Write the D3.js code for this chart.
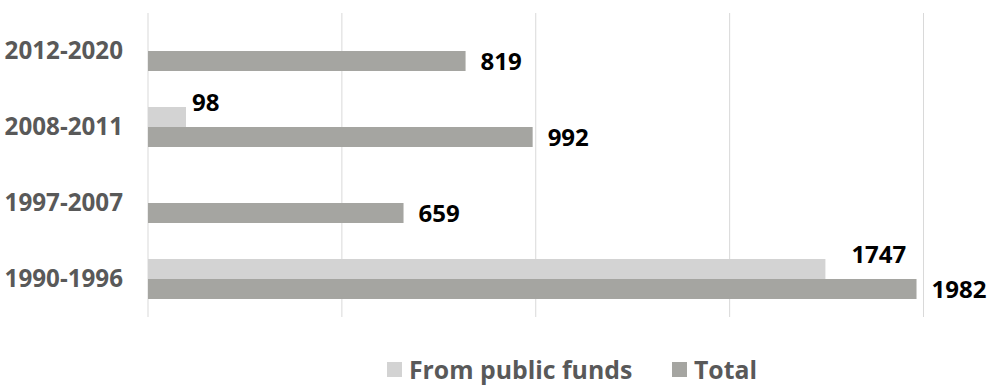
<!DOCTYPE html>
<html>
<head>
<meta charset="utf-8">
<script src="https://cdn.jsdelivr.net/npm/d3@7"></script>
<style>
  body { margin: 0; background: #fff; }
  svg text { font-family: "Open Sans", sans-serif; font-weight: 700; }
</style>
</head>
<body>
<div id="container"></div>
<script>
// data
var periods = ["2012-2020", "2008-2011", "1997-2007", "1990-1996"];
var publicFunds = [null, 98, null, 1747];
var totals = [819, 992, 659, 1982];
var seriesNames = ["From public funds", "Total"];
var xTicks = [0, 500, 1000, 1500, 2000];

var width = 994, height = 385;
var colors = { "From public funds": "#d3d3d3", "Total": "#a5a5a1" };

var svg = d3.select("#container").append("svg")
    .attr("width", width)
    .attr("height", height);

var x = d3.scaleLinear().domain([0, 2000]).range([148, 923.5]);

var y = d3.scaleBand()
    .domain(periods)
    .range([13, 317])
    .paddingInner(36 / 76)
    .paddingOuter(18 / 76);

var ySub = d3.scaleBand()
    .domain(seriesNames)
    .range([0, y.bandwidth()]);

// gridlines
svg.append("g")
  .selectAll("line")
  .data(xTicks)
  .enter().append("line")
    .attr("x1", d => x(d)).attr("x2", d => x(d))
    .attr("y1", 13).attr("y2", 317)
    .attr("stroke", "#d9d9d9")
    .attr("stroke-width", 1);

// category labels
svg.append("g")
  .selectAll("text")
  .data(periods)
  .enter().append("text")
    .attr("x", 123)
    .attr("y", d => y(d) + y.bandwidth() / 2)
    .attr("dy", "0.35em")
    .attr("text-anchor", "end")
    .attr("font-size", 24.2)
    .attr("fill", "#595959")
    .text(d => d);

var rows = [];
periods.forEach(function(p, i) {
  rows.push({ period: p, series: "From public funds", value: publicFunds[i] });
  rows.push({ period: p, series: "Total", value: totals[i] });
});
rows = rows.filter(d => d.value != null);

svg.append("g")
  .selectAll("rect")
  .data(rows)
  .enter().append("rect")
    .attr("x", x(0))
    .attr("y", d => y(d.period) + ySub(d.series))
    .attr("width", d => x(d.value) - x(0))
    .attr("height", ySub.bandwidth())
    .attr("fill", d => colors[d.series]);

// value labels (Excel nudges the public-fund ones up to avoid overlap)
var publicDx = { "2008-2011": 6, "1990-1996": 26 };
svg.append("g")
  .selectAll("text")
  .data(rows)
  .enter().append("text")
    .attr("x", d => x(d.value) + (d.series == "Total" ? 15 : (publicDx[d.period] || 15)))
    .attr("y", d => y(d.period) + ySub(d.series) + ySub.bandwidth() / 2 + (d.series == "Total" ? 1 : -14))
    .attr("dy", "0.35em")
    .attr("font-size", 24)
    .attr("fill", "#000")
    .text(d => d.value);

// legend
var legend = svg.append("g");
var legendX = [387, 672];
seriesNames.forEach(function(s, i) {
  legend.append("rect")
    .attr("x", legendX[i]).attr("y", 362)
    .attr("width", 15).attr("height", 15)
    .attr("fill", colors[s]);
  legend.append("text")
    .attr("x", legendX[i] + 22).attr("y", 370)
    .attr("dy", "0.35em")
    .attr("font-size", 24.8)
    .attr("fill", "#595959")
    .text(s);
});
</script>
</body>
</html>
